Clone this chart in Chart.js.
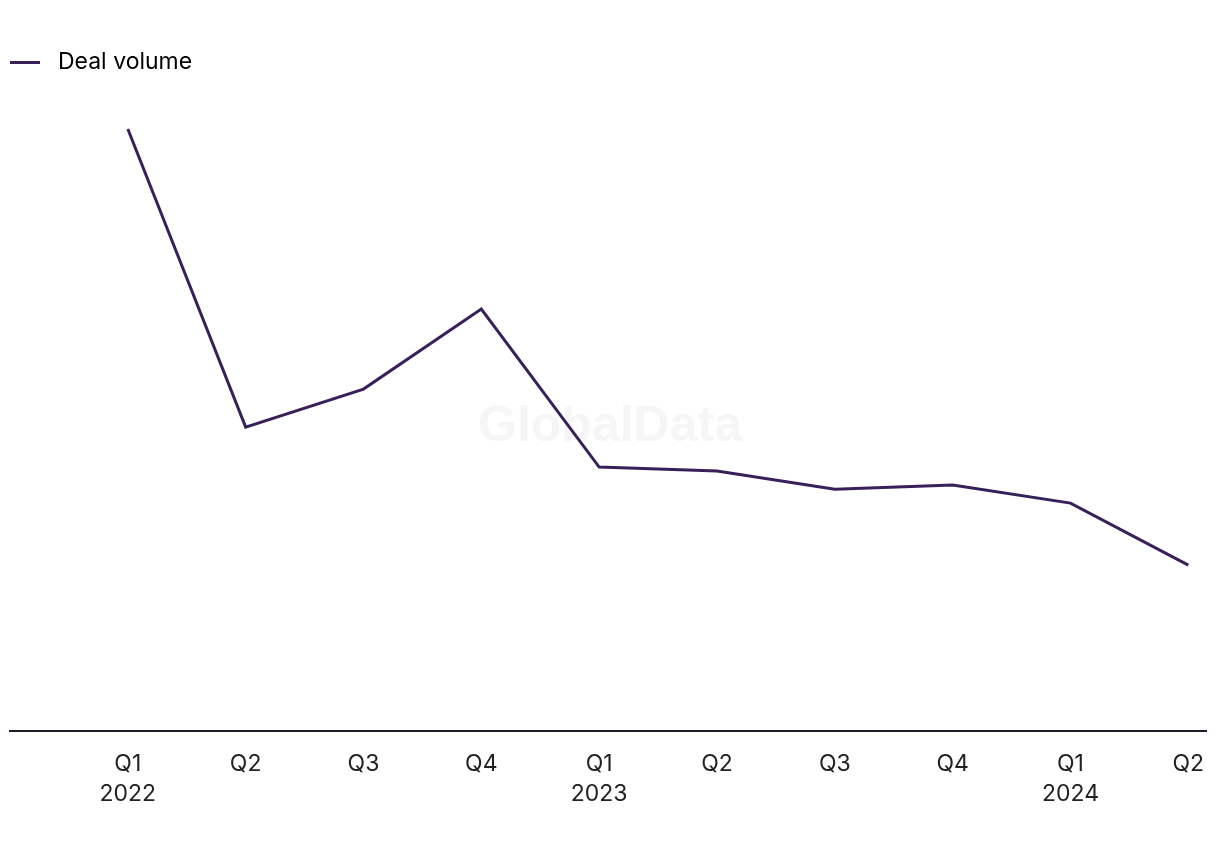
<!DOCTYPE html>
<html>
<head>
<meta charset="utf-8">
<script src="https://cdn.jsdelivr.net/npm/chart.js@4"></script>
<style>
  html, body { margin: 0; padding: 0; background: #fff; }
  #wrap { width: 1220px; height: 850px; }
</style>
</head>
<body>
<div id="wrap"><canvas id="dealChart"></canvas></div>
<script>
// Dados do gráfico
const quarters = ['Q1', 'Q2', 'Q3', 'Q4', 'Q1', 'Q2', 'Q3', 'Q4', 'Q1', 'Q2'];
const years = ['2022', '', '', '', '2023', '', '', '', '2024', ''];
const dealVolume = [301, 152, 171, 211, 132, 130, 121, 123, 114, 83];

const FONT = 'Inter, "Liberation Sans", sans-serif';
const LINE_COLOR = '#38215a';

// Marca d'água
const watermark = {
    id: 'watermark',
    beforeDatasetsDraw(chart) {
        const c = chart.ctx;
        c.save();
        c.font = 'bold 50px "Liberation Sans", Arial, sans-serif';
        c.fillStyle = '#f6f6f6';
        c.textAlign = 'center';
        c.textBaseline = 'middle';
        c.fillText('GlobalData', 610, 427);
        c.restore();
    }
};

// Espaço abaixo da legenda
const legendSpace = {
    id: 'legendSpace',
    beforeInit(chart) {
        const origFit = chart.legend.fit;
        chart.legend.fit = function () {
            origFit.bind(chart.legend)();
            this.height = 40;
        };
    }
};

const ctx = document.getElementById('dealChart').getContext('2d');
new Chart(ctx, {
    type: 'line',
    data: {
        datasets: [{
            label: 'Deal volume',
            data: dealVolume.map((v, i) => ({ x: i, y: v })),
            borderColor: LINE_COLOR,
            borderWidth: 3,
            pointRadius: 0,
            tension: 0,
            fill: false
        }]
    },
    options: {
        responsive: true,
        maintainAspectRatio: false,
        animation: false,
        layout: { padding: { left: 10, right: 14, top: 51, bottom: 31 } },
        plugins: {
            legend: {
                align: 'start',
                labels: {
                    boxWidth: 30,
                    boxHeight: 3,
                    padding: 0,
                    color: '#1d1d2b',
                    font: { family: FONT, size: 23 },
                    generateLabels: (chart) => [{
                        text: ' Deal volume',
                        fillStyle: LINE_COLOR,
                        strokeStyle: LINE_COLOR,
                        lineWidth: 0,
                        datasetIndex: 0
                    }]
                }
            },
            tooltip: { enabled: false }
        },
        scales: {
            x: {
                type: 'linear',
                min: -1,
                max: 9.15,
                grid: { display: false },
                border: { display: true, color: '#1d1d2b', width: 2 },
                afterBuildTicks: (axis) => {
                    axis.ticks = quarters.map((q, i) => ({ value: i }));
                },
                ticks: {
                    color: '#222',
                    padding: 10,
                    maxRotation: 0,
                    autoSkip: false,
                    font: { family: FONT, size: 23, lineHeight: 1.3 },
                    callback: (value) => {
                        const i = Math.round(value);
                        if (i < 0 || i >= quarters.length) return '';
                        return years[i] ? [quarters[i], years[i]] : quarters[i];
                    }
                }
            },
            y: {
                display: false,
                min: 0,
                max: 320
            }
        }
    },
    plugins: [watermark, legendSpace]
});
</script>
</body>
</html>
